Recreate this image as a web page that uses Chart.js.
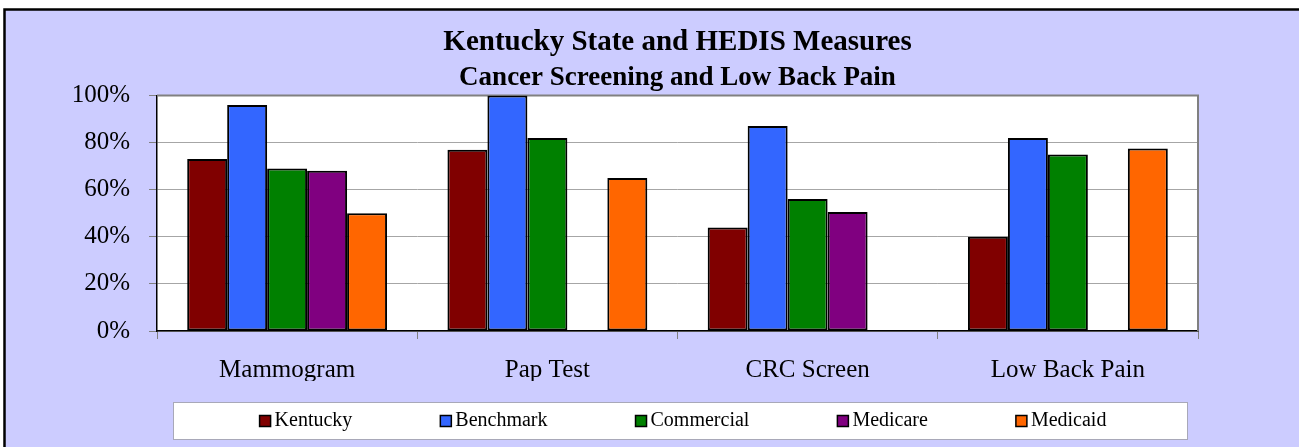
<!DOCTYPE html>
<html>
<head>
<meta charset="utf-8">
<script src="https://cdn.jsdelivr.net/npm/chart.js@4.4.0/dist/chart.umd.min.js"></script>
<style>
  html, body { margin: 0; padding: 0; background: #fff; overflow: hidden; }
  canvas { display: block; }
</style>
</head>
<body>
<canvas id="hedisChart" width="1299" height="447"></canvas>
<script>
const categories = ['Mammogram', 'Pap Test', 'CRC Screen', 'Low Back Pain'];
const kentucky = [73, 77, 44, 40];
const benchmark = [96, 100, 87, 82];
const commercial = [69, 82, 56, 75];
const medicare = [68, null, 50.5, null];
const medicaid = [50, 65, null, 77.5];
const yTicks = [0, 20, 40, 60, 80, 100];

const serif = '"Liberation Serif", "Times New Roman", serif';

// lavender page + black frame, white plot area
const backgroundPlugin = {
  id: 'background',
  beforeDraw(chart) {
    const ctx = chart.ctx;
    const a = chart.chartArea;
    ctx.save();
    ctx.fillStyle = '#fff';
    ctx.fillRect(0, 0, chart.width, chart.height);
    ctx.fillStyle = '#CCCCFF';
    ctx.fillRect(4, 9, chart.width - 4, chart.height - 9);
    ctx.strokeStyle = '#000';
    ctx.lineWidth = 2.5;
    ctx.beginPath();
    ctx.moveTo(4.5, chart.height);
    ctx.lineTo(4.5, 9.5);
    ctx.lineTo(chart.width, 9.5);
    ctx.stroke();
    ctx.fillStyle = '#fff';
    ctx.fillRect(a.left, a.top, a.right - a.left, a.bottom - a.top);
    ctx.restore();
  },
  beforeDatasetsDraw(chart) {
    // grey top and right edge of the plot
    const ctx = chart.ctx, a = chart.chartArea;
    ctx.save();
    ctx.strokeStyle = '#808080';
    ctx.lineWidth = 2;
    ctx.beginPath();
    ctx.moveTo(a.left, a.top);
    ctx.lineTo(a.right, a.top);
    ctx.lineTo(a.right, a.bottom);
    ctx.stroke();
    ctx.restore();
  }
};

// boxed legend like the excel one
const boxLegendPlugin = {
  id: 'boxLegend',
  afterDraw(chart) {
    const ctx = chart.ctx, a = chart.chartArea;
    const left = a.left + 16, right = a.right - 11, top = a.bottom + 71, h = 37;
    ctx.save();
    ctx.fillStyle = '#fff';
    ctx.fillRect(left, top, right - left, h);
    ctx.strokeStyle = '#A8A8B8';
    ctx.lineWidth = 1;
    ctx.strokeRect(left + 0.5, top + 0.5, right - left, h);

    ctx.font = '20px ' + serif;
    const box = 11, gap = 4, space = 88;
    const items = chart.data.datasets.map(ds => ({
      label: ds.label,
      color: ds.backgroundColor,
      w: ctx.measureText(ds.label).width
    }));
    const total = items.reduce((s, it) => s + box + gap + it.w, 0) + space * (items.length - 1);
    let x = (left + right) / 2 - total / 2 + 3;
    const cy = top + 19;
    items.forEach(it => {
      ctx.fillStyle = it.color;
      ctx.fillRect(x, cy - box / 2, box, box);
      ctx.strokeStyle = '#000';
      ctx.lineWidth = 1.5;
      ctx.strokeRect(x, cy - box / 2, box, box);
      ctx.fillStyle = '#000';
      ctx.textBaseline = 'middle';
      ctx.textAlign = 'left';
      ctx.fillText(it.label, x + box + gap, cy);
      x += box + gap + it.w + space;
    });
    ctx.restore();
  }
};

function bars(label, data, color) {
  return {
    label: label,
    data: data,
    backgroundColor: color,
    borderColor: '#000',
    borderWidth: 2,
    borderSkipped: false,
    categoryPercentage: 0.768,
    barPercentage: 1
  };
}

const ctx = document.getElementById('hedisChart').getContext('2d');
const hedisChart = new Chart(ctx, {
  type: 'bar',
  data: {
    labels: categories,
    datasets: [
      bars('Kentucky', kentucky, '#800000'),
      bars('Benchmark', benchmark, '#3366FF'),
      bars('Commercial', commercial, '#008000'),
      bars('Medicare', medicare, '#800080'),
      bars('Medicaid', medicaid, '#FF6600')
    ]
  },
  options: {
    responsive: false,
    devicePixelRatio: 1,
    animation: false,
    layout: { padding: { left: 0, right: 101, top: 0, bottom: 66 } },
    plugins: {
      legend: { display: false },
      tooltip: { enabled: false },
      title: {
        display: true,
        fullSize: false,
        text: 'Kentucky State and HEDIS Measures',
        color: '#000',
        font: { family: serif, size: 29, weight: 'bold', lineHeight: 1 },
        padding: { top: 28, bottom: 0 }
      },
      subtitle: {
        display: true,
        fullSize: false,
        text: 'Cancer Screening and Low Back Pain',
        color: '#000',
        font: { family: serif, size: 27, weight: 'bold', lineHeight: 1 },
        padding: { top: 8, bottom: 3.5 }
      }
    },
    scales: {
      x: {
        offset: true,
        grid: { display: true, drawOnChartArea: false, drawTicks: true, tickLength: 8, tickColor: '#808080', offset: true },
        border: { display: true, color: '#000', width: 1.5 },
        ticks: { color: '#000', font: { family: serif, size: 25 }, padding: 16 },
        afterFit: s => { s.height = 50; }
      },
      y: {
        min: 0,
        max: 100,
        afterBuildTicks: s => { s.ticks = yTicks.map(v => ({ value: v })); },
        ticks: { color: '#000', font: { family: serif, size: 25 }, padding: 19, callback: v => v + '%' },
        grid: { color: '#A6A6A6', tickColor: '#808080', tickLength: 8, lineWidth: 1 },
        border: { display: true, color: '#000', width: 1.5 },
        afterFit: s => { s.width = 157; }
      }
    }
  },
  plugins: [backgroundPlugin, boxLegendPlugin]
});
</script>
</body>
</html>
